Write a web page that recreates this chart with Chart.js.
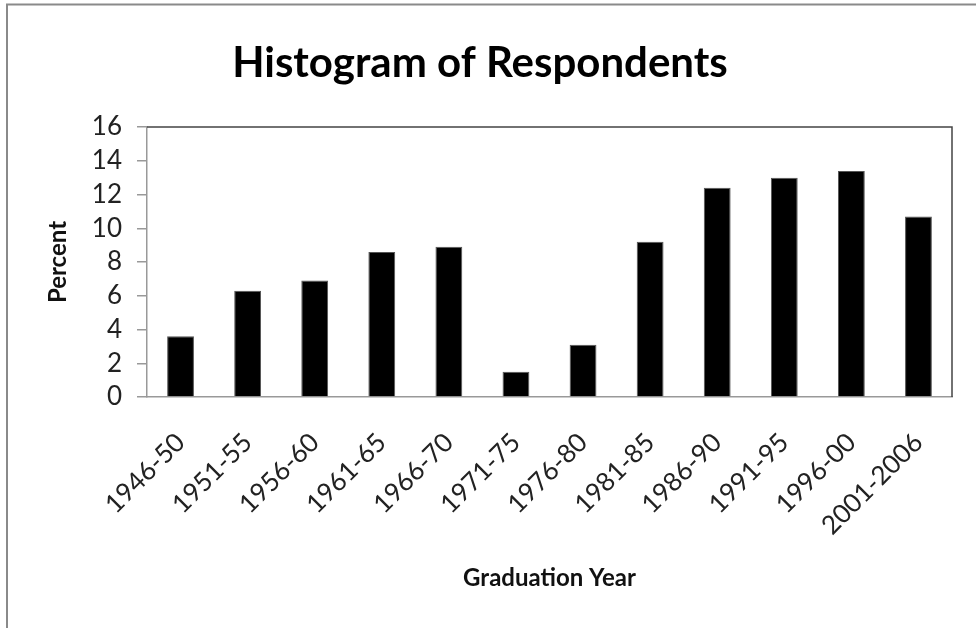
<!DOCTYPE html>
<html>
<head>
<meta charset="utf-8">
<title>Histogram of Respondents</title>
<script src="https://cdn.jsdelivr.net/npm/chart.js@4"></script>
<style>
    body { margin: 0; background: #fff; }
    canvas { display: block; }
</style>
</head>
<body>
<canvas id="chart" width="976" height="628"></canvas>
<script>
const years = ['1946-50','1951-55','1956-60','1961-65','1966-70','1971-75','1976-80','1981-85','1986-90','1991-95','1996-00','2001-2006'];
const percents = [3.6, 6.3, 6.9, 8.6, 8.9, 1.5, 3.1, 9.2, 12.4, 13.0, 13.4, 10.7];
const yTicks = [0, 2, 4, 6, 8, 10, 12, 14, 16];

// outer frame of the chart object + top/right edge of the plot box
const frames = {
    id: 'frames',
    beforeDraw(chart) {
        const ctx = chart.ctx;
        ctx.save();
        ctx.strokeStyle = '#8a8a8a';
        ctx.lineWidth = 2;
        ctx.beginPath();
        ctx.moveTo(7, 628); ctx.lineTo(7, 4.5); ctx.lineTo(976, 4.5);
        ctx.stroke();
        ctx.restore();
    },
    afterDraw(chart) {
        const a = chart.chartArea, ctx = chart.ctx;
        ctx.save();
        ctx.strokeStyle = '#444';
        ctx.lineWidth = 1.5;
        ctx.beginPath();
        ctx.moveTo(a.left, a.top); ctx.lineTo(a.right, a.top); ctx.lineTo(a.right, a.bottom);
        ctx.stroke();
        ctx.restore();
    }
};

new Chart(document.getElementById('chart'), {
    type: 'bar',
    data: {
        labels: years,
        datasets: [{
            data: percents,
            backgroundColor: '#000',
            borderColor: '#555',
            borderWidth: 1,
            barPercentage: 0.4,
            categoryPercentage: 1
        }]
    },
    options: {
        responsive: false,
        animation: false,
        layout: { padding: { left: 8, right: 24, top: 0, bottom: 0 } },
        plugins: {
            legend: { display: false },
            tooltip: { enabled: false },
            title: {
                display: true,
                text: 'Histogram of Respondents',
                color: '#000',
                font: { family: 'Lato', size: 42, weight: 'bold' },
                padding: { top: 38, bottom: 38.6 }
            }
        },
        scales: {
            x: {
                afterFit: s => { s.height = 231; },
                grid: { display: false, drawTicks: false },
                border: { display: true, color: '#999', width: 1.5 },
                ticks: {
                    color: '#222',
                    font: { family: 'Lato', size: 26 },
                    minRotation: 45, maxRotation: 45,
                    padding: 30,
                    autoSkip: false
                },
                title: {
                    display: true,
                    text: 'Graduation Year',
                    color: '#111',
                    font: { family: 'Lato', size: 24, weight: 'bold' },
                    padding: { top: 0, bottom: 35 }
                }
            },
            y: {
                min: 0, max: 16,
                afterFit: s => { s.width = 139; },
                afterBuildTicks: s => { s.ticks = yTicks.map(v => ({ value: v })); },
                grid: { drawOnChartArea: false, drawTicks: true, tickLength: 10, color: '#999', lineWidth: 1.5 },
                border: { display: true, color: '#999', width: 1.5 },
                ticks: {
                    color: '#222',
                    font: { family: 'Lato', size: 26 },
                    padding: 15,
                    autoSkip: false
                },
                title: {
                    display: true,
                    text: 'Percent',
                    color: '#111',
                    font: { family: 'Lato', size: 24, weight: 'bold' },
                    padding: { top: 36, bottom: 0 }
                }
            }
        }
    },
    plugins: [frames]
});
</script>
</body>
</html>
